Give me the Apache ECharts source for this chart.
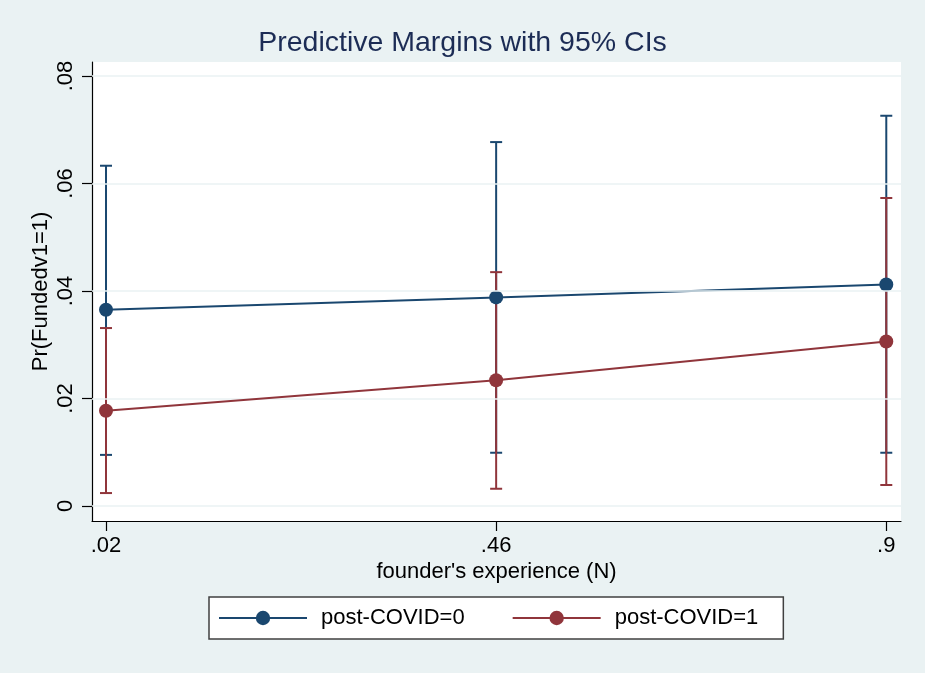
<!DOCTYPE html>
<html>
<head>
<meta charset="utf-8">
<script src="https://cdn.jsdelivr.net/npm/echarts@6/dist/echarts.min.js"></script>
<style>
html,body{margin:0;padding:0;background:#eaf2f3;}
#chart{width:925px;height:673px;}
</style>
</head>
<body>
<div id="chart"></div>
<script>
// ---- data ----
var seriesNames = ['post-COVID=0', 'post-COVID=1'];
var xValues = [0.02, 0.46, 0.9];
var margin0 = [0.0365, 0.0388, 0.0412];
var lower0 = [0.0095, 0.0099, 0.0099];
var upper0 = [0.0633, 0.0677, 0.0726];
var margin1 = [0.0177, 0.0234, 0.0306];
var lower1 = [0.0024, 0.0032, 0.0039];
var upper1 = [0.0331, 0.0435, 0.0573];
var xTicks = [0.02, 0.46, 0.9];
var xTickLabels = ['.02', '.46', '.9'];
var yTicks = [0, 0.02, 0.04, 0.06, 0.08];
var yTickLabels = ['0', '.02', '.04', '.06', '.08'];

var BLUE = '#1a476f';
var RED = '#90353b';
var FONT = 'Liberation Sans, Arial, sans-serif';

function labelFor(ticks, labels) {
  return function (v) {
    for (var i = 0; i < ticks.length; i++) {
      if (Math.abs(ticks[i] - v) < 1e-9) return labels[i];
    }
    return '';
  };
}

function ciData(lo, hi) {
  return xValues.map(function (x, i) { return [x, lo[i], hi[i]]; });
}
function lineData(m) {
  return xValues.map(function (x, i) { return [x, m[i]]; });
}

function ciRender(color) {
  return function (params, api) {
    var x = api.value(0);
    var pLo = api.coord([x, api.value(1)]);
    var pHi = api.coord([x, api.value(2)]);
    var cap = 6;
    var style = { stroke: color, lineWidth: 2, fill: null };
    return {
      type: 'group',
      children: [
        { type: 'line', shape: { x1: pLo[0], y1: pLo[1], x2: pHi[0], y2: pHi[1] }, style: style },
        { type: 'line', shape: { x1: pLo[0] - cap, y1: pLo[1], x2: pLo[0] + cap, y2: pLo[1] }, style: style },
        { type: 'line', shape: { x1: pHi[0] - cap, y1: pHi[1], x2: pHi[0] + cap, y2: pHi[1] }, style: style }
      ]
    };
  };
}

var chart = echarts.init(document.getElementById('chart'));
var option = {
  backgroundColor: '#eaf2f3',
  animation: false,
  title: {
    text: 'Predictive Margins with 95% CIs',
    left: 'center',
    top: 29,
    padding: 0,
    textStyle: { fontFamily: FONT, fontSize: 28.5, fontWeight: 'normal', color: '#1c2c55' }
  },
  legend: {
    data: seriesNames,
    left: 209,
    top: 597,
    orient: 'horizontal',
    backgroundColor: '#ffffff',
    borderColor: '#404040',
    borderWidth: 1.5,
    borderRadius: 0,
    padding: [10, 25, 10, 9],
    itemWidth: 88,
    itemHeight: 18,
    itemGap: 47,
    textStyle: { fontFamily: FONT, fontSize: 22, color: '#000', padding: [0, 0, 0, 9] }
  },
  grid: {
    left: 92, right: 24, top: 62, bottom: 152,
    show: true, backgroundColor: '#ffffff', borderWidth: 0,
    containLabel: false
  },
  xAxis: {
    type: 'value',
    min: 0.0042,
    max: 0.9166,
    name: "founder's experience (N)",
    nameLocation: 'middle',
    nameGap: 40,
    nameMoveOverlap: false,
    nameTextStyle: { fontFamily: FONT, fontSize: 22, color: '#000' },
    axisLine: { show: true, onZero: false, lineStyle: { color: '#000', width: 1.2 } },
    axisTick: { show: true, length: 10, customValues: xTicks, lineStyle: { color: '#000', width: 1.2 } },
    axisLabel: { show: true, customValues: xTicks, margin: 14, fontFamily: FONT, fontSize: 22, color: '#000', formatter: labelFor(xTicks, xTickLabels) },
    splitLine: { show: false }
  },
  yAxis: {
    type: 'value',
    min: -0.0028,
    max: 0.0826,
    name: 'Pr(Fundedv1=1)',
    nameLocation: 'middle',
    nameRotate: 90,
    nameGap: 40,
    nameMoveOverlap: false,
    nameTextStyle: { fontFamily: FONT, fontSize: 22, color: '#000' },
    axisLine: { show: true, onZero: false, lineStyle: { color: '#000', width: 1.2 } },
    axisTick: { show: true, length: 10, customValues: yTicks, lineStyle: { color: '#000', width: 1.2 } },
    axisLabel: { show: true, customValues: yTicks, rotate: 90, margin: 15, fontFamily: FONT, fontSize: 22, color: '#000', formatter: labelFor(yTicks, yTickLabels) },
    splitLine: { show: false }
  },
  series: [
    {
      name: 'grid',
      type: 'line',
      data: [],
      z: 1,
      silent: true,
      markLine: {
        silent: true,
        symbol: ['none', 'none'],
        label: { show: false },
        lineStyle: { color: '#eaf2f3', width: 1.5, type: 'solid' },
        data: yTicks.map(function (v) { return { yAxis: v }; })
      }
    },
    {
      name: seriesNames[0] + ' CI',
      type: 'custom',
      z: 2,
      renderItem: ciRender(BLUE),
      encode: { x: 0, y: [1, 2] },
      data: ciData(lower0, upper0)
    },
    {
      name: seriesNames[1] + ' CI',
      type: 'custom',
      z: 3,
      renderItem: ciRender(RED),
      encode: { x: 0, y: [1, 2] },
      data: ciData(lower1, upper1)
    },
    {
      name: seriesNames[0],
      type: 'line',
      z: 4,
      data: lineData(margin0),
      symbol: 'circle',
      symbolSize: 14,
      color: BLUE,
      lineStyle: { color: BLUE, width: 2 },
      itemStyle: { color: BLUE }
    },
    {
      name: seriesNames[1],
      type: 'line',
      z: 5,
      data: lineData(margin1),
      symbol: 'circle',
      symbolSize: 14,
      color: RED,
      lineStyle: { color: RED, width: 2 },
      itemStyle: { color: RED }
    }
  ]
};
chart.setOption(option);
</script>
</body>
</html>
